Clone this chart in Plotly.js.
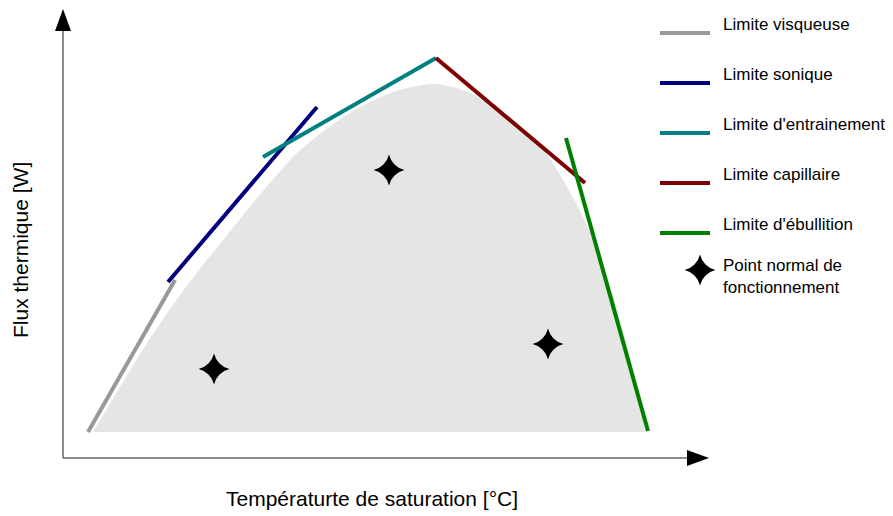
<!DOCTYPE html>
<html>
<head>
<meta charset="utf-8">
<script src="https://cdn.plot.ly/plotly-3.0.1.min.js"></script>
<style>html,body{margin:0;padding:0;background:#fff;}#chart{width:893px;height:516px;}</style>
</head>
<body>
<div id="chart"></div>
<script>
// Operating envelope (grey domain), arbitrary units: temperature (x) vs heat flux (y)
const envelopeT = [30, 57, 84, 107, 132, 160, 190, 212, 235, 262, 292, 322, 349, 372, 397, 422, 447, 467, 485, 500, 514, 527, 540, 553, 565, 575, 582];
const envelopeQ = [26, 71, 115, 149, 183, 218, 255, 281, 306, 328, 348, 363, 371, 374, 369, 358, 340, 322, 302, 278, 253, 226, 193, 153, 108, 66, 26];

// Limit lines
const limitNames  = ["Limite visqueuse", "Limite sonique", "Limite d'entrainement", "Limite capillaire", "Limite d'ébullition"];
const limitColors = ["#999999", "#00007f", "#008080", "#7f0000", "#008000"];
const limitT = [[25, 112], [105, 254], [200, 373], [373, 522], [503, 585]];
const limitQ = [[26, 178], [176, 351], [301, 400], [400, 275], [320, 27]];

// Normal operating points
const pointT = [151, 326, 485];
const pointQ = [89, 288, 114];
const pointName = "Point normal de<br>fonctionnement";

const xTitle = "Températurte de saturation [°C]";
const yTitle = "Flux thermique [W]";

const FONT = "Liberation Sans, Arial, sans-serif";
const STAR = {symbol: "star-diamond", size: 22, color: "#000000", line: {width: 0}};

const traces = [];
traces.push({
  x: envelopeT, y: envelopeQ,
  mode: "lines", line: {width: 0, shape: "spline", smoothing: 1},
  fill: "toself", fillcolor: "#e5e5e5", hoverinfo: "skip", showlegend: false
});
limitNames.forEach((n, i) => {
  traces.push({
    x: limitT[i], y: limitQ[i], mode: "lines", name: n,
    line: {color: limitColors[i], width: 4}, showlegend: false
  });
});
traces.push({
  x: pointT, y: pointQ, mode: "markers", name: "Point normal de fonctionnement",
  marker: STAR, showlegend: false
});

// custom legend (layout positions)
const legX0 = 597, legX1 = 647, legTextX = 658;
const legY = [425, 375, 325, 275, 225];
const shapes = [];
const annotations = [];
limitNames.forEach((n, i) => {
  shapes.push({type: "line", xref: "x", yref: "y", x0: legX0, x1: legX1, y0: legY[i], y1: legY[i],
    line: {color: limitColors[i], width: 4}});
  annotations.push({xref: "x", yref: "y", x: legTextX, y: legY[i] + 9, text: n, showarrow: false,
    xanchor: "left", yanchor: "middle", font: {family: FONT, size: 17, color: "#000"}});
});
traces.push({
  x: [637], y: [188], mode: "markers", hoverinfo: "skip", showlegend: false, marker: STAR
});
annotations.push({xref: "x", yref: "y", x: legTextX, y: 182, text: pointName, showarrow: false,
  xanchor: "left", yanchor: "middle", align: "left", font: {family: FONT, size: 17, color: "#000"}});

// axes with arrows
const axisColor = "#666666";
shapes.push({type: "line", xref: "x", yref: "y", x0: 0, y0: 0, x1: 0, y1: 430, line: {color: axisColor, width: 1.5}});
shapes.push({type: "line", xref: "x", yref: "y", x0: 0, y0: 0, x1: 626, y1: 0, line: {color: axisColor, width: 1.5}});
shapes.push({type: "path", xref: "x", yref: "y", path: "M -8 427 L 8 427 L 0 449 Z", fillcolor: "#000", line: {width: 0}});
shapes.push({type: "path", xref: "x", yref: "y", path: "M 624 8 L 624 -8 L 646 0 Z", fillcolor: "#000", line: {width: 0}});

annotations.push({xref: "x", yref: "y", x: 309, y: -40, text: xTitle, showarrow: false,
  xanchor: "center", yanchor: "middle", font: {family: FONT, size: 21, color: "#000"}});
annotations.push({xref: "x", yref: "y", x: -43, y: 208, text: yTitle, showarrow: false, textangle: -90,
  xanchor: "center", yanchor: "middle", font: {family: FONT, size: 21, color: "#000"}});

const layout = {
  width: 893, height: 516,
  margin: {l: 0, r: 0, t: 0, b: 0},
  paper_bgcolor: "#ffffff", plot_bgcolor: "#ffffff",
  xaxis: {range: [-63, 830], visible: false, fixedrange: true},
  yaxis: {range: [-58, 458], visible: false, fixedrange: true},
  shapes: shapes, annotations: annotations, showlegend: false
};

Plotly.newPlot("chart", traces, layout, {displayModeBar: false, staticPlot: true});
</script>
</body>
</html>
